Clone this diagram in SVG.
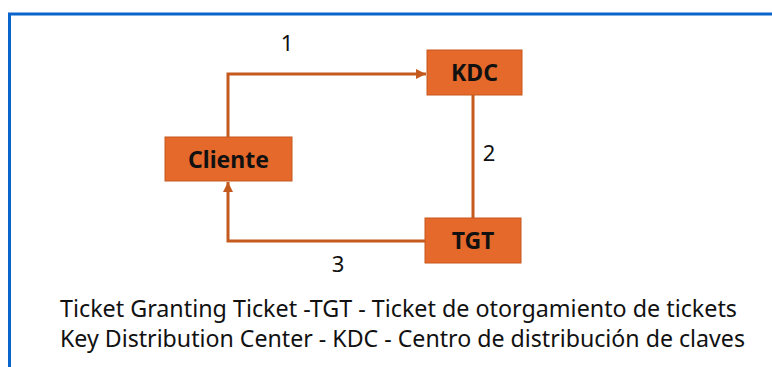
<svg xmlns="http://www.w3.org/2000/svg" width="772" height="367" viewBox="0 0 772 367">
<style>
.box{fill:#E4692A;stroke:#C8581C;stroke-width:1}
.nt{font-family:"Noto Sans","Liberation Sans",sans-serif;font-weight:bold;font-size:23px;fill:#111;text-anchor:middle}
.lbl{font-family:"Noto Sans","Liberation Sans",sans-serif;font-size:22px;fill:#111;text-anchor:middle}
.cap{font-family:"Noto Sans","Liberation Sans",sans-serif;font-size:23px;fill:#111}
.con{fill:none;stroke:#C45A1E;stroke-width:3}
</style>
<defs>
<marker id="ah" viewBox="0 0 10 10" refX="10" refY="5" markerWidth="10" markerHeight="10" markerUnits="userSpaceOnUse" orient="auto">
<path d="M0,0 L10,5 L0,10 z" fill="#C45A1E"/>
</marker>
</defs>
<rect width="772" height="367" fill="#fff"/>
<path d="M9.5,367 V14 H772" fill="none" stroke="#0A64CC" stroke-width="3"/>
<g id="connectors">
<path class="con" d="M228,137 V74 H426" marker-end="url(#ah)"/>
<path class="con" d="M473,95 V218"/>
<path class="con" d="M425,241 H228 V182" marker-end="url(#ah)"/>
</g>
<g id="kdc">
<rect class="box" x="427" y="50" width="95" height="45"/>
<text class="nt" x="474.5" y="80.5">KDC</text>
</g>
<g id="cliente">
<rect class="box" x="165" y="137" width="127" height="44"/>
<text class="nt" x="228.5" y="167.5">Cliente</text>
</g>
<g id="tgt">
<rect class="box" x="425" y="218" width="96" height="45"/>
<text class="nt" x="473" y="248.5">TGT</text>
</g>
<g id="labels">
<text class="lbl" x="287" y="51">1</text>
<text class="lbl" x="489" y="161">2</text>
<text class="lbl" x="338" y="272">3</text>
</g>
<g id="caption">
<text class="cap" x="60" y="317" textLength="677" lengthAdjust="spacingAndGlyphs">Ticket Granting Ticket -TGT - Ticket de otorgamiento de tickets</text>
<text class="cap" x="60" y="347" textLength="685" lengthAdjust="spacingAndGlyphs">Key Distribution Center - KDC - Centro de distribución de claves</text>
</g>
</svg>
